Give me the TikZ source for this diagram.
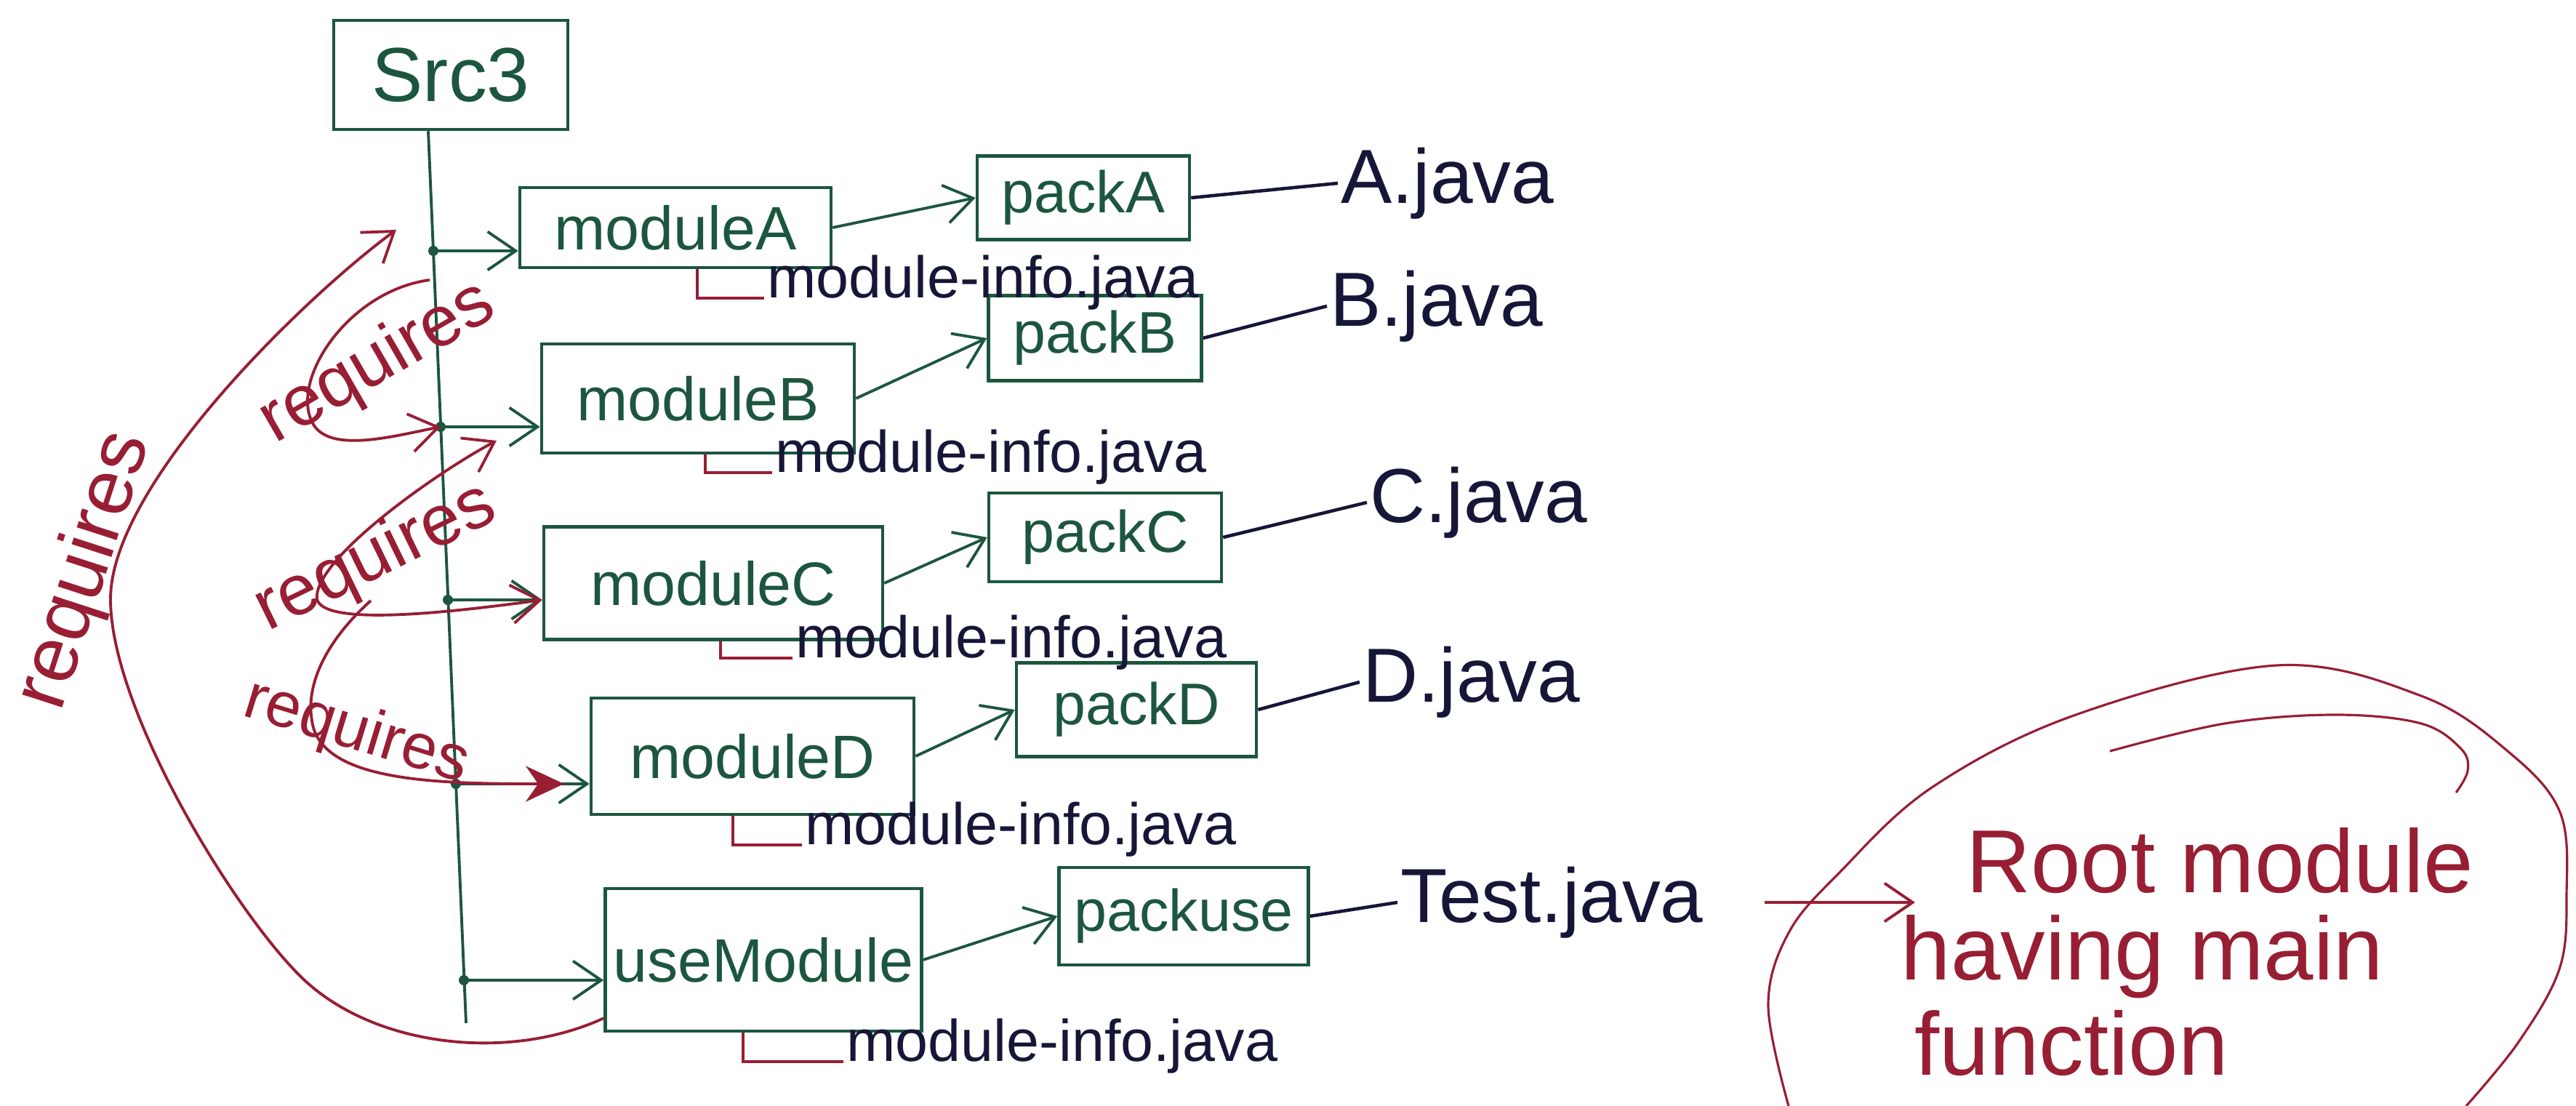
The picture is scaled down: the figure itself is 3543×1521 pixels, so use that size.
\documentclass[tikz,border=0pt]{standalone}
\usepackage{fontspec}
\setmainfont{Liberation Sans}
\usetikzlibrary{arrows.meta}
\definecolor{inkgreen}{RGB}{28,86,62}
\definecolor{inkred}{RGB}{152,30,52}
\definecolor{inknavy}{RGB}{22,22,56}
\begin{document}
\begin{tikzpicture}[x=0.1mm,y=-0.1mm,
  gbox/.style={draw=inkgreen, text=inkgreen, line width=1.3pt, inner sep=2pt},
  modbox/.style={gbox, font=\fontsize{24}{26}\selectfont},
  packbox/.style={gbox, font=\fontsize{23}{25}\selectfont},
  garrow/.style={draw=inkgreen, line width=1.1pt, -{Straight Barb[length=11pt,width=15pt]}},
  javaline/.style={draw=inknavy, line width=1.3pt},
  rline/.style={draw=inkred, line width=1.1pt},
  rarrow/.style={rline, -{Straight Barb[length=11pt,width=15pt]}},
  javalabel/.style={text=inknavy, anchor=west, inner sep=1pt, font=\fontsize{30}{32}\selectfont},
  infolabel/.style={text=inknavy, anchor=base west, inner sep=1pt, font=\fontsize{23}{25}\selectfont},
  reqlabel/.style={text=inkred, inner sep=0pt, font=\fontsize{28}{30}\selectfont},
  rootlabel/.style={text=inkred, anchor=base west, inner sep=0pt, font=\fontsize{35}{37}\selectfont}]
\useasboundingbox (0,0) rectangle (3543,1521);

\node[gbox, minimum width=32.2mm, minimum height=15mm, font=\fontsize{30}{32}\selectfont] (src) at (620,103) {Src3};

% modules, packages, files
\node[modbox, minimum width=42.8mm, minimum height=11mm] (modA) at (929,313) {moduleA};
\node[modbox, minimum width=43mm, minimum height=15mm] (modB) at (960,548) {moduleB};
\node[modbox, minimum width=46.6mm, minimum height=15.5mm] (modC) at (981,802) {moduleC};
\node[modbox, minimum width=44.4mm, minimum height=16mm] (modD) at (1035,1040) {moduleD};
\node[modbox, minimum width=43.5mm, minimum height=19.6mm] (modU) at (1050,1320) {useModule};

\node[packbox, minimum width=29.2mm, minimum height=11.5mm] (packA) at (1490,272) {packA};
\node[packbox, minimum width=29.3mm, minimum height=11.7mm] (packB) at (1506,465) {packB};
\node[packbox, minimum width=32mm, minimum height=12.2mm] (packC) at (1520,739) {packC};
\node[packbox, minimum width=33mm, minimum height=12.9mm] (packD) at (1563,976) {packD};
\node[packbox, minimum width=34.3mm, minimum height=13.4mm] (packU) at (1628,1260) {packuse};

\node[javalabel] (jvA) at (1840,252) {A.java};
\node[javalabel] (jvB) at (1825,421) {B.java};
\node[javalabel] (jvC) at (1880,691) {C.java};
\node[javalabel] (jvD) at (1870,938) {D.java};
\node[javalabel] (jvU) at (1922,1241) {Test.java};

\node[infolabel] (infA) at (1051,410) {module-info.java};
\node[infolabel] (infB) at (1062,650) {module-info.java};
\node[infolabel] (infC) at (1090,905) {module-info.java};
\node[infolabel] (infD) at (1103,1162) {module-info.java};
\node[infolabel] (infU) at (1160,1460) {module-info.java};

% trunk
\coordinate (ttop) at ([xshift=-3.1mm]src.south);
\coordinate (tbot) at (641,1407);
\coordinate (jA) at (596,345);
\coordinate (jB) at (606,587);
\coordinate (jC) at (616,825);
\coordinate (jD) at (627,1078);
\coordinate (jU) at (638,1348);
\draw[inkgreen, line width=1.1pt] (ttop) -- (tbot);

\foreach \m in {A,B,C,D,U} {
  \fill[inkgreen] (j\m) circle (7);
  \draw[garrow] (j\m) -- (j\m -| mod\m.west);
  \draw[garrow] (mod\m.east) -- (pack\m.west);
  \draw[javaline] (pack\m.east) -- (jv\m.west);
}
\foreach \m/\dx in {A/3mm,B/1mm,C/1mm,D/-2.7mm,U/-2.8mm}
  \draw[rline] ([xshift=\dx]mod\m.south) |- (inf\m.base west);

% requires
\coordinate (r1s) at (591,385);
\coordinate (r2s) at (683,606);
\coordinate (r3s) at (510,826);
\coordinate (r4s) at ([yshift=2mm]modU.south west);
\draw[rarrow] (r1s) .. controls (480,400) and (400,520) .. (429,580)
  .. controls (450,625) and (540,600) .. (jB);
\draw[rline, {Straight Barb[length=11pt,width=15pt]}-{Straight Barb[length=11pt,width=15pt]}]
  (r2s) .. controls (600,650) and (430,770) .. (436,824)
  .. controls (445,860) and (600,845) .. (jC -| modC.west);
\draw[rline, -{Stealth[length=15pt,width=14pt]}, shorten >=3.5mm] (r3s) .. controls (450,880) and (420,940) .. (429,991)
  .. controls (440,1075) and (600,1078) .. (jD -| modD.west);
\draw[rarrow] (r4s) .. controls (700,1460) and (520,1440) .. (421,1350)
  .. controls (331,1268) and (152,980) .. (152,824)
  .. controls (152,668) and (416,411) .. (545,316);
\node[reqlabel, rotate=30] (reqA) at (520,500) {requires};
\node[reqlabel, rotate=26] (reqB) at (517,768) {requires};
\node[reqlabel, rotate=-17, font=\fontsize{25}{27}\selectfont] (reqC) at (490,1008) {requires};
\node[reqlabel, rotate=72, font=\fontsize{31}{33}\selectfont] (reqD) at (118,785) {requires};

% root module note
\node[rootlabel] (rootA) at (2704,1228) {Root module};
\node[rootlabel] (rootB) at (2614,1348) {having main};
\node[rootlabel] (rootC) at (2633,1478) {function};
\draw[rarrow, shorten <=8mm, shorten >=7mm] (jvU.east) -- (jvU.east -| rootA.west);
\draw[rline, line width=0.9pt] plot[smooth, tension=0.6] coordinates {(2460,1521) (2432,1383) (2460,1283)
  (2530,1200) (2657,1083) (2855,983) (3132,915) (3330,957) (3449,1033) (3521,1117) (3530,1233)
  (3520,1333) (3464,1433) (3392,1521)};
\draw[rline, line width=0.9pt] plot[smooth, tension=0.6] coordinates {(2902,1033) (3060,995) (3212,983)
  (3330,995) (3385,1030) (3394,1060) (3378,1090)};
\end{tikzpicture}
\end{document}
